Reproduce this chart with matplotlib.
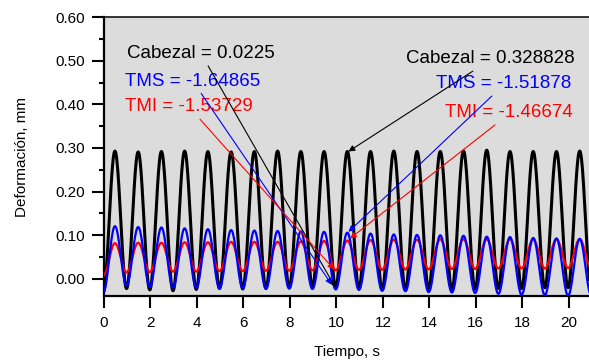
import numpy as np
import matplotlib
matplotlib.use("Agg")
import matplotlib.pyplot as plt
from matplotlib.ticker import MultipleLocator

plt.rcParams['font.family'] = ['Liberation Sans', 'DejaVu Sans']

# Cyclic test: one load cycle per second, peaks near n + 0.47 s
peak_times = [0.47 + n for n in range(21)]
valley_times = [-0.03 + n for n in range(22)]

cabezal_peaks = [0.293, 0.291, 0.292, 0.293, 0.292, 0.291, 0.292, 0.293, 0.292, 0.292, 0.292,
                 0.292, 0.293, 0.292, 0.292, 0.293, 0.295, 0.292, 0.292, 0.292, 0.293]
cabezal_valleys = [-0.030, -0.022, -0.025, -0.027, -0.024, -0.022, -0.023, -0.022, -0.020, -0.018, -0.020,
                   -0.022, -0.025, -0.025, -0.023, -0.025, -0.023, -0.022, -0.022, -0.020, -0.020, -0.022]

tms_peaks = [0.121, 0.119, 0.118, 0.116, 0.114, 0.112, 0.111, 0.110, 0.109, 0.108, 0.106,
             0.104, 0.102, 0.101, 0.100, 0.099, 0.097, 0.096, 0.094, 0.093, 0.092]
tms_valleys = [-0.030, -0.015, -0.018, -0.020, -0.020, -0.021, -0.021, -0.022, -0.022, -0.023, -0.024,
               -0.025, -0.027, -0.028, -0.030, -0.031, -0.032, -0.034, -0.036, -0.037, -0.038, -0.038]

tmi_peaks = [0.082, 0.083, 0.083, 0.084, 0.084, 0.085, 0.085, 0.085, 0.086, 0.087, 0.088,
             0.089, 0.090, 0.090, 0.091, 0.091, 0.091, 0.091, 0.091, 0.091, 0.091]
tmi_valleys = [0.008, 0.015, 0.016, 0.017, 0.017, 0.018, 0.018, 0.019, 0.019, 0.020, 0.020,
               0.021, 0.021, 0.022, 0.022, 0.023, 0.023, 0.024, 0.024, 0.024, 0.025, 0.025]

x_ticks = [0, 2, 4, 6, 8, 10, 12, 14, 16, 18, 20]
y_ticks = [0.0, 0.1, 0.2, 0.3, 0.4, 0.5, 0.6]


def cycle_curve(peaks, valleys, steps=24):
    """Join alternating valleys and peaks with half-cosine segments."""
    ext_t, ext_v = [], []
    for i in range(len(valleys)):
        ext_t.append(valley_times[i]); ext_v.append(valleys[i])
        if i < len(peaks):
            ext_t.append(peak_times[i]); ext_v.append(peaks[i])
    ts, vs = [], []
    for k in range(len(ext_t) - 1):
        s = np.linspace(0, 1, steps, endpoint=False)
        w = (1 - np.cos(np.pi * s)) / 2
        ts.append(ext_t[k] + (ext_t[k + 1] - ext_t[k]) * s)
        vs.append(ext_v[k] + (ext_v[k + 1] - ext_v[k]) * w)
    ts.append([ext_t[-1]]); vs.append([ext_v[-1]])
    return np.concatenate(ts), np.concatenate(vs)


fig = plt.figure(figsize=(5.89, 3.62), dpi=100)
ax = fig.add_axes([0.1766, 0.1823, 0.8234, 0.7707])
ax.set_facecolor('#dcdcdc')

t, v = cycle_curve(cabezal_peaks, cabezal_valleys)
ax.plot(t, v, color='black', lw=2.2, zorder=3)
t, v = cycle_curve(tmi_peaks, tmi_valleys)
ax.plot(t, v, color='#ff0000', lw=1.6, zorder=4)
t, v = cycle_curve(tms_peaks, tms_valleys)
ax.plot(t, v, color='#0000ff', lw=1.6, zorder=5)

ax.set_xlim(0, 20.87)
ax.set_ylim(-0.039, 0.60)
ax.set_xticks(x_ticks)
ax.set_xticklabels([str(x) for x in x_ticks])
ax.set_yticks(y_ticks)
ax.set_yticklabels([f"{y:.2f}" for y in y_ticks])
ax.yaxis.set_minor_locator(MultipleLocator(0.05))

ax.tick_params(axis='both', which='major', direction='out', length=8.5, width=1.5,
               labelsize=11, pad=5)
ax.tick_params(axis='x', which='major', pad=6)
ax.tick_params(axis='y', which='minor', direction='out', length=3.8, width=1.5)
for side in ('left', 'bottom'):
    ax.spines[side].set_linewidth(1.6)
ax.spines['top'].set_linewidth(1.1)
ax.spines['right'].set_visible(False)

ax.set_xlabel('Tiempo, s', fontsize=11, labelpad=11)
ax.set_ylabel('Deformación, mm', fontsize=11, labelpad=19)

fs = 13.5
ax.text(0.99, 0.517, 'Cabezal = 0.0225', color='black', fontsize=fs, va='center', ha='left')
ax.text(0.90, 0.452, 'TMS = -1.64865', color='#0000ff', fontsize=fs, va='center', ha='left')
ax.text(0.90, 0.396, 'TMI = -1.53729', color='#ff0000', fontsize=fs, va='center', ha='left')
ax.text(20.27, 0.504, 'Cabezal = 0.328828', color='black', fontsize=fs, va='center', ha='right')
ax.text(20.10, 0.448, 'TMS = -1.51878', color='#0000ff', fontsize=fs, va='center', ha='right')
ax.text(20.17, 0.381, 'TMI = -1.46674', color='#ff0000', fontsize=fs, va='center', ha='right')

arrows = [
    ((4.48, 0.488), (9.94, -0.018), 'black'),
    ((4.18, 0.425), (9.80, -0.013), '#0000ff'),
    ((4.13, 0.366), (9.90, 0.022), '#ff0000'),
    ((15.87, 0.476), (10.52, 0.292), 'black'),
    ((16.69, 0.419), (10.52, 0.108), '#0000ff'),
    ((16.83, 0.353), (10.59, 0.093), '#ff0000'),
]
for start, end, col in arrows:
    ax.annotate('', xy=end, xytext=start,
                arrowprops=dict(arrowstyle='-|>', color=col, lw=0.8,
                                mutation_scale=9, shrinkA=0, shrinkB=0),
                zorder=6)

fig.savefig('out.png', dpi=100)
